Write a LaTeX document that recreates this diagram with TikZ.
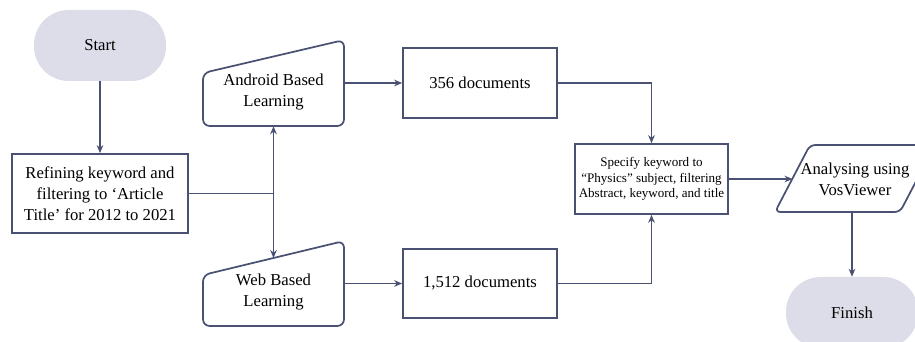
\documentclass[tikz,border=0pt]{standalone}
\usepackage{fontspec}
\setmainfont{Liberation Serif}
\usetikzlibrary{arrows.meta,calc}
\definecolor{ln}{HTML}{4A5173}
\definecolor{term}{HTML}{DCDDE8}
\begin{document}
\begin{tikzpicture}[x=0.75pt,y=-0.75pt,
  txt/.style={font=\fontsize{12.5}{15.75}\selectfont, align=center, text=black},
  terminal/.style={txt, fill=term, draw=none, rounded corners=26pt, minimum width=99pt, minimum height=53.25pt},
  procbox/.style={txt, draw=ln, line width=1.3pt, fill=white},
  frame/.style={draw=ln, line width=1.3pt, rounded corners=5pt},
  conn/.style={draw=ln, line width=0.9pt},
  arr/.style={conn, -{Stealth[length=6pt,width=5pt]}}
]
\useasboundingbox (0,0) rectangle (915,342);
\clip (0,0) rectangle (915,342);

% terminals
\node[terminal] (start) at (100,45.5) {Start};
\node[terminal] (finish) at (852,312.5) {Finish};

% refine
\node[procbox, minimum width=132pt, minimum height=59.25pt] (refine) at (100,193.5)
  {Refining keyword and\\filtering to ‘Article\\Title’ for 2012 to 2021};

% android (manual input)
\coordinate (aBL) at (203,126);
\coordinate (aBR) at (344,126);
\coordinate (aTR) at (344,40);
\coordinate (aTL) at (203,73);
\draw[frame] (aBL) -- (aBR) -- (aTR) -- (aTL) -- cycle;
\node[minimum width=105.75pt, minimum height=64.5pt, inner sep=0pt] (andbox) at (273.5,83) {};
\node[txt] (andtxt) at (273.5,92.5) {Android Based\\Learning};

% web (manual input)
\coordinate (wBL) at (203,326);
\coordinate (wBR) at (344,326);
\coordinate (wTR) at (344,241);
\coordinate (wTL) at (203,275);
\draw[frame] (wBL) -- (wBR) -- (wTR) -- (wTL) -- cycle;
\node[minimum width=105.75pt, minimum height=63.75pt, inner sep=0pt] (webbox) at (273.5,283.5) {};
\node[txt] (webtxt) at (273.5,292.5) {Web Based\\Learning};
\coordinate (webtop) at ($(wTL)!0.5!(wTR)$);

% document boxes
\node[procbox, minimum width=115.5pt, minimum height=52.5pt] (d356) at (480,83) {356 documents};
\node[procbox, minimum width=115.5pt, minimum height=51.75pt] (d1512) at (480,283.5) {1,512 documents};

% specify
\node[procbox, font=\fontsize{9.8}{11.8}\selectfont, minimum width=114.75pt, minimum height=52.5pt, inner sep=1pt] (spec) at (651.5,179)
  {Specify keyword to\\“Physics” subject, filtering\\Abstract, keyword, and title};

% analysing parallelogram
\coordinate (pBL) at (775,212);
\coordinate (pBR) at (900,212);
\coordinate (pTR) at (935,145);
\coordinate (pTL) at (810,145);
\draw[frame, rounded corners=4pt] (pBL) -- (pBR) -- (pTR) -- (pTL) -- cycle;
\node[txt] (ana) at (855,179.5) {Analysing using\\VosViewer};
\coordinate (anaL) at ($(pBL)!0.5!(pTL)$);
\coordinate (anaB) at (852,212);

% connectors
\coordinate (j) at (273.5,193.5);
\draw[arr] (start) -- (refine);
\draw[conn] (refine.east) -- (j);
\draw[arr] (j) -- (andbox.south);
\draw[arr] (j) -- (webtop);
\draw[arr] (andbox.east |- d356.west) -- (d356.west);
\draw[arr] (webbox.east |- d1512.west) -- (d1512.west);
\draw[arr] (d356.east) -| (spec.north);
\draw[arr] (d1512.east) -| (spec.south);
\draw[arr] (spec.east) -- (spec.east -| anaL);
\draw[arr] (anaB) -- (finish.north);
\end{tikzpicture}
\end{document}
